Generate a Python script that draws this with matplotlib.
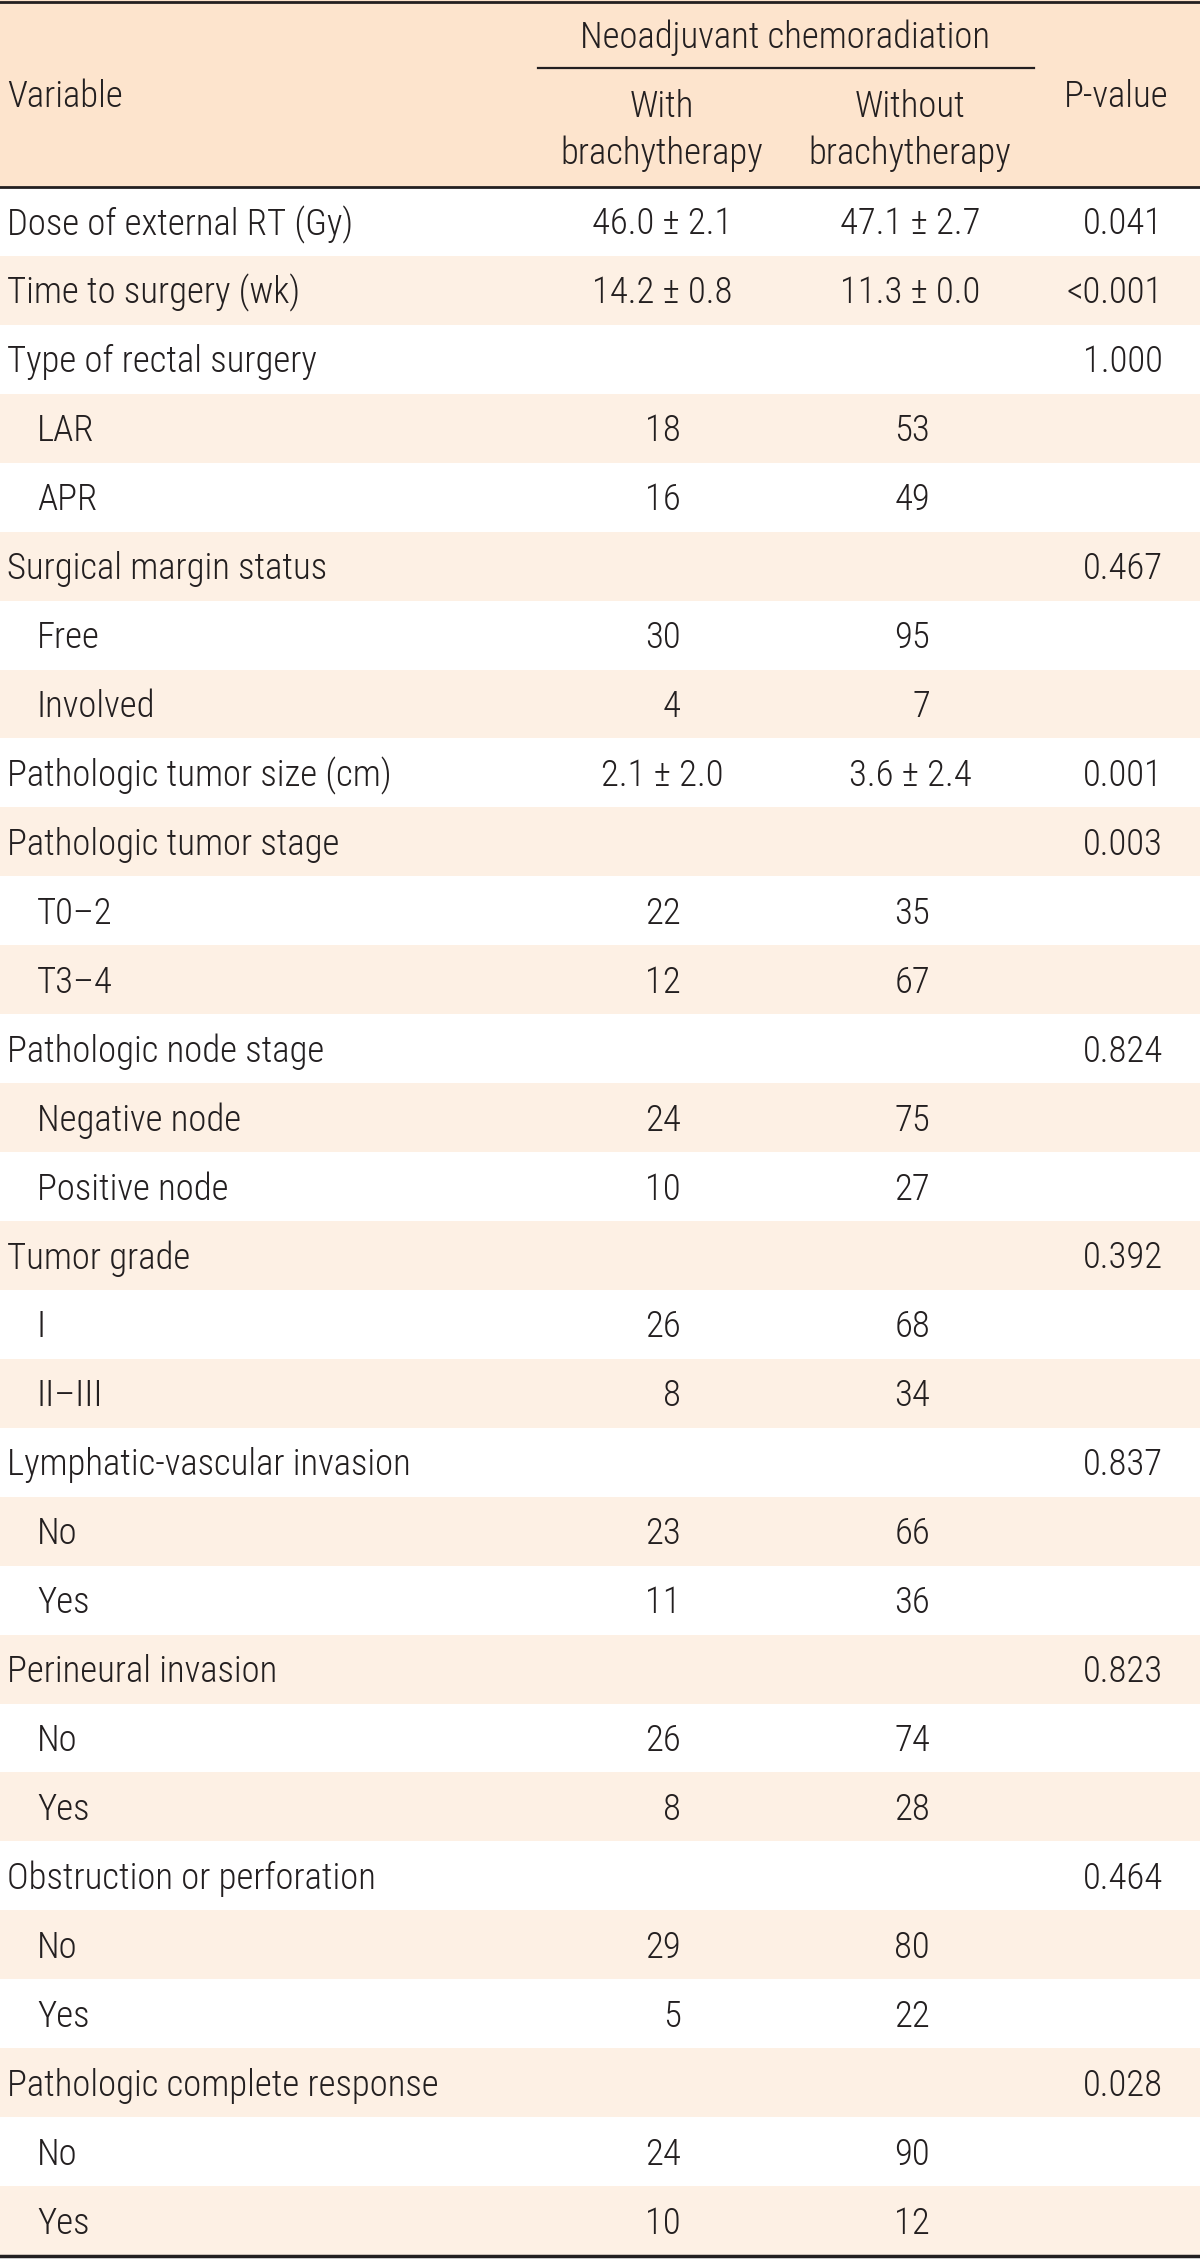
import matplotlib.pyplot as plt
from matplotlib.patches import Rectangle
from matplotlib import font_manager

# table content
variables = ["Dose of external RT (Gy)", "Time to surgery (wk)", "Type of rectal surgery",
             "LAR", "APR", "Surgical margin status", "Free", "Involved",
             "Pathologic tumor size (cm)", "Pathologic tumor stage", "T0\u20132", "T3\u20134",
             "Pathologic node stage", "Negative node", "Positive node", "Tumor grade",
             "I", "II\u2013III", "Lymphatic-vascular invasion", "No", "Yes",
             "Perineural invasion", "No", "Yes", "Obstruction or perforation", "No", "Yes",
             "Pathologic complete response", "No", "Yes"]
indented = [0, 0, 0, 1, 1, 0, 1, 1, 0, 0, 1, 1, 0, 1, 1, 0, 1, 1, 0, 1, 1, 0, 1, 1, 0, 1, 1, 0, 1, 1]
with_brachy = ["46.0 \u00b1 2.1", "14.2 \u00b1 0.8", "", "18", "16", "", "30", "4",
               "2.1 \u00b1 2.0", "", "22", "12", "", "24", "10", "", "26", "8", "", "23", "11",
               "", "26", "8", "", "29", "5", "", "24", "10"]
without_brachy = ["47.1 \u00b1 2.7", "11.3 \u00b1 0.0", "", "53", "49", "", "95", "7",
                  "3.6 \u00b1 2.4", "", "35", "67", "", "75", "27", "", "68", "34", "", "66", "36",
                  "", "74", "28", "", "80", "22", "", "90", "12"]
p_values = ["0.041", "<0.001", "1.000", "", "", "0.467", "", "", "0.001", "0.003", "", "",
            "0.824", "", "", "0.392", "", "", "0.837", "", "", "0.823", "", "", "0.464", "",
            "", "0.028", "", ""]

# pick a condensed font if there is one
names = {f.name for f in font_manager.fontManager.ttflist}
fam = "DejaVu Sans"
for cand in ["Liberation Sans Narrow", "Roboto Condensed", "DejaVu Sans Condensed", "Liberation Sans"]:
    if cand in names:
        fam = cand
        break
plt.rcParams['font.family'] = [fam, "DejaVu Sans"]
plt.rcParams['font.weight'] = "light"

W, H = 1200, 2259
header_bg = "#fde4cd"
stripe_bg = "#fdf0e4"
ink = "#231f20"
fs = 26.5
dy = 3  # small downward nudge so text sits like the original

fig = plt.figure(figsize=(W / 100, H / 100), dpi=100)
ax = fig.add_axes([0, 0, 1, 1])
ax.set_xlim(0, W)
ax.set_ylim(H, 0)
ax.axis("off")

header_bottom = 187
table_bottom = 2255
n = len(variables)
row_h = (table_bottom - header_bottom) / n

# header
ax.add_patch(Rectangle((0, 0), W, header_bottom, color=header_bg, lw=0))
ax.text(7, 94 + dy, "Variable", fontsize=fs, color=ink, va="center", ha="left")
ax.text(785, 35 + dy, "Neoadjuvant chemoradiation", fontsize=fs, color=ink, va="center", ha="center")
ax.plot([538, 1034], [68, 68], color=ink, lw=1.6)
ax.text(662, 104 + dy, "With", fontsize=fs, color=ink, va="center", ha="center")
ax.text(662, 151 + dy, "brachytherapy", fontsize=fs, color=ink, va="center", ha="center")
ax.text(910, 104 + dy, "Without", fontsize=fs, color=ink, va="center", ha="center")
ax.text(910, 151 + dy, "brachytherapy", fontsize=fs, color=ink, va="center", ha="center")
ax.text(1116, 94 + dy, "P-value", fontsize=fs, color=ink, va="center", ha="center")

# body rows
for i, lab in enumerate(variables):
    top = header_bottom + i * row_h
    yc = top + row_h / 2 + dy
    if i % 2 == 1:
        ax.add_patch(Rectangle((0, top), W, row_h, color=stripe_bg, lw=0))
    x0 = 37 if indented[i] else 7
    ax.text(x0, yc, lab, fontsize=fs, color=ink, va="center", ha="left")
    for val, xc, xr in [(with_brachy[i], 662, 681), (without_brachy[i], 910, 930)]:
        if "\u00b1" in val:
            ax.text(xc, yc, val, fontsize=fs, color=ink, va="center", ha="center")
        elif val:
            ax.text(xr, yc, val, fontsize=fs, color=ink, va="center", ha="right")
    if p_values[i]:
        ax.text(1163, yc, p_values[i], fontsize=fs, color=ink, va="center", ha="right")

# rules
ax.plot([0, W], [1.5, 1.5], color=ink, lw=2)
ax.plot([0, W], [header_bottom, header_bottom], color=ink, lw=2)
ax.plot([0, W], [table_bottom + 1, table_bottom + 1], color=ink, lw=2.5)

fig.savefig("out.png", dpi=100)
